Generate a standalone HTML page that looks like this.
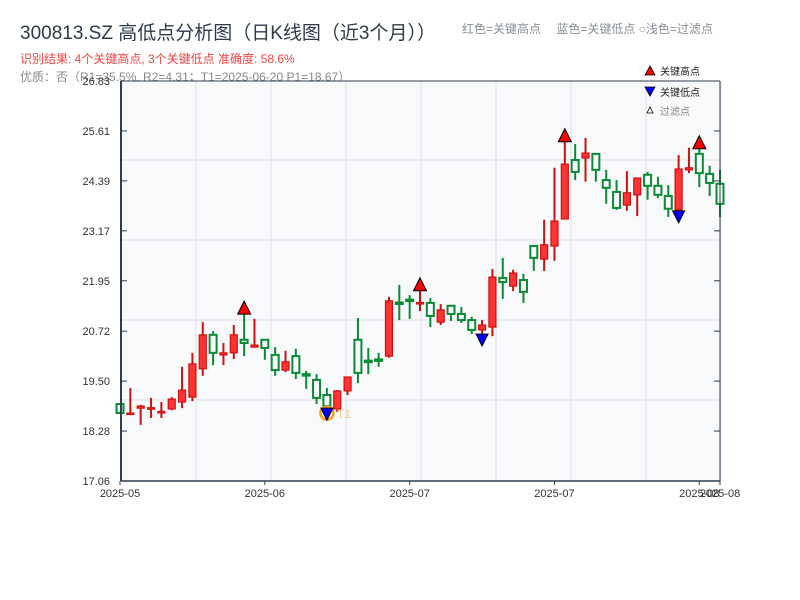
<!DOCTYPE html>
<html><head><meta charset="utf-8"><style>
body{margin:0;background:#fff;}
svg{display:block;font-family:"Liberation Sans","Noto Sans CJK SC",sans-serif;}
</style></head><body>
<svg id="c" width="800" height="600">
<rect x="0" y="0" width="800" height="600" fill="#fff"/>
<text x="20" y="39" font-size="19" fill="#2e3a4a">300813.SZ 高低点分析图（日K线图（近3个月））</text>
<text x="462" y="33" font-size="12" fill="#8a8f96">红色=关键高点　 蓝色=关键低点  ○浅色=过滤点</text>
<text x="20" y="63" font-size="12" fill="#ee4444">识别结果: 4个关键高点, 3个关键低点  准确度: 58.6%</text>
<text x="20" y="81" font-size="12" fill="#888">优质：否（R1=35.5%, R2=4.31；T1=2025-06-20 P1=18.67）</text>
<rect x="121" y="81" width="599" height="400" fill="#f7f9fb"/>
<g id="grid"></g>
<g id="candles"></g>
<g id="marks"></g>
<g id="axes"></g>
<g>
<polygon points="650,66 655,75 645,75" fill="#f00" stroke="#000" stroke-width="0.8"/>
<text x="660" y="75" font-size="10" fill="#222">关键高点</text>
<polygon points="645,87 655,87 650,96" fill="#00f" stroke="#000" stroke-width="0.8"/>
<text x="660" y="96" font-size="10" fill="#222">关键低点</text>
<polygon points="650,107 653,113 647,113" fill="#fff" stroke="#000" stroke-width="0.8"/>
<text x="660" y="115" font-size="10" fill="#888">过滤点</text>
</g>
</svg>
<script>
const opens=[18.94,18.70,18.84,18.83,18.74,18.82,18.99,19.11,19.80,20.63,20.14,20.19,20.51,20.33,20.51,20.14,19.77,20.11,19.67,19.53,19.16,18.82,19.26,20.51,20.00,20.03,20.11,21.42,21.49,21.40,21.41,20.94,21.34,21.14,20.99,20.75,20.82,22.02,21.82,21.97,22.80,22.48,22.80,23.46,24.90,24.95,25.05,24.41,24.12,23.80,24.05,24.54,24.27,24.02,23.68,24.66,25.05,24.56,24.32];
const closes=[18.72,18.72,18.89,18.85,18.76,19.06,19.28,19.92,20.63,20.19,20.19,20.63,20.43,20.38,20.31,19.77,19.97,19.70,19.65,19.09,18.89,19.26,19.60,19.70,19.98,20.01,21.46,21.40,21.47,21.42,21.09,21.24,21.14,20.99,20.75,20.87,22.04,21.92,22.14,21.68,22.51,22.83,23.41,24.80,24.61,25.07,24.66,24.22,23.73,24.10,24.46,24.27,24.05,23.71,24.68,24.71,24.58,24.34,23.83];
const highs=[18.94,19.33,18.92,19.09,18.99,19.11,19.85,20.19,20.94,20.72,20.43,20.87,21.16,21.02,20.51,20.33,20.24,20.29,19.75,19.67,19.33,19.28,19.60,21.04,20.31,20.19,21.56,21.85,21.60,21.73,21.53,21.38,21.36,21.31,21.07,20.99,22.24,22.51,22.22,22.12,22.83,23.44,24.71,25.37,25.29,25.44,25.05,24.66,24.41,24.63,24.46,24.61,24.49,24.29,25.02,25.20,25.20,24.76,24.66];
const lows=[18.72,18.67,18.43,18.60,18.60,18.79,18.84,19.01,19.63,19.89,19.89,20.04,20.11,20.33,20.02,19.63,19.72,19.55,19.31,18.94,18.79,18.75,19.16,19.45,19.67,19.85,20.07,20.99,21.02,21.21,20.82,20.87,20.97,20.92,20.65,20.60,20.60,21.51,21.70,21.41,22.19,22.19,22.44,23.46,24.41,24.37,24.37,23.83,23.68,23.66,23.53,23.93,23.97,23.51,23.61,24.58,24.24,24.02,23.51];
const highIdx=[12,29,43,56];
const lowIdx=[20,35,54];
const yTicks=[17.06,18.28,19.50,20.72,21.95,23.17,24.39,25.61,26.83];
const xLabels=["2025-05","2025-06","2025-07","2025-07","2025-08","2025-08"];
const xLabelIdx=[0,14,28,42,56,58];

const NS="http://www.w3.org/2000/svg";
const yMin=17.06,yMax=26.83,pTop=81,pBot=481,pLeft=121,pRight=720;
function Y(p){return pBot-(p-yMin)/(yMax-yMin)*(pBot-pTop);}
function X(i){return 120+i*(600/58);}
function mk(tag,attrs,parent){const e=document.createElementNS(NS,tag);for(const k in attrs)e.setAttribute(k,attrs[k]);parent.appendChild(e);return e;}
const grid=document.getElementById('grid'),cg=document.getElementById('candles'),mg=document.getElementById('marks'),ag=document.getElementById('axes');
for(let gx=121;gx<=721;gx+=75){const l=mk('line',{x1:gx,x2:gx,y1:pTop,y2:pBot,stroke:'#e1e4e8','stroke-width':1.2},grid);

}
for(let gy=160;gy<=400;gy+=80){const l=mk('line',{x1:pLeft,x2:pRight,y1:gy,y2:gy,stroke:'#e1e4e8','stroke-width':1.2},grid);

}
for(let i=0;i<opens.length;i++){
 const up=closes[i]>=opens[i];const x=X(i);
 const col=up?'#cc1111':'#0a8a35';
 const w=mk('line',{x1:x,x2:x,y1:Y(highs[i]),y2:Y(lows[i]),stroke:col,'stroke-width':2},cg);
 
 
 const t=Y(Math.max(opens[i],closes[i])),b=Y(Math.min(opens[i],closes[i]));
 const r=mk('rect',{x:x-3.5,y:t,width:7,height:Math.max(b-t,1.5),fill:up?'#ff3333':'#f7f9fb',stroke:col,'stroke-width':up?1.2:2},cg);
 
 
}
highIdx.forEach(i=>{const x=X(i),y=Y(highs[i])+1;
 const p=mk('polygon',{points:`${x},${y-13} ${x+6.5},${y} ${x-6.5},${y}`,fill:'#f00',stroke:'#000','stroke-width':1},mg);
 
 });
lowIdx.forEach(i=>{const x=X(i),y=Y(lows[i])-2;
 if(i===20){const c=mk('circle',{cx:x,cy:y+5,r:6.5,fill:'none',stroke:'#f5a020','stroke-width':2.5},mg);
  
  
  const tt=mk('text',{x:x+10,y:y+10,'font-size':12,fill:'#f8c880'},mg);tt.textContent='T1';
  
  }
 const p=mk('polygon',{points:`${x-6},${y} ${x+6},${y} ${x},${y+12}`,fill:'#00f',stroke:'#000','stroke-width':1},mg);
 
 });
[[pLeft,pTop,pLeft,pBot,'#2f3e4e',2,'left-spine'],[pRight,pTop,pRight,pBot,'#2f3e4e',1,'right-spine'],[pLeft,pTop,pRight,pTop,'#2f3e4e',1,'top-spine'],[pLeft,pBot,pRight,pBot,'#2f3e4e',1.5,'bottom-spine']].forEach(a=>{
 const l=mk('line',{x1:a[0],y1:a[1],x2:a[2],y2:a[3],stroke:a[4],'stroke-width':a[5]},ag);
 
 });
yTicks.forEach(v=>{const y=Y(v);
 const t=mk('line',{x1:pLeft,x2:pLeft+6,y1:y,y2:y,stroke:'#2f3e4e','stroke-width':1},ag);
 
 
 const t2=mk('line',{x1:pRight-6,x2:pRight,y1:y,y2:y,stroke:'#2f3e4e','stroke-width':1},ag);
 
 
 const tx=mk('text',{x:110,y:y+4,'font-size':11,fill:'#333','text-anchor':'end'},ag);tx.textContent=v.toFixed(2);
 
 });
xLabels.forEach((s,k)=>{const x=X(xLabelIdx[k]);
 const t=mk('line',{x1:x,x2:x,y1:pBot,y2:pBot+4,stroke:'#2f3e4e','stroke-width':1},ag);
 
 
 const tx=mk('text',{x:x,y:pBot+16,'font-size':11,fill:'#333','text-anchor':'middle'},ag);tx.textContent=s;
 
 });
</script>
</body></html>
